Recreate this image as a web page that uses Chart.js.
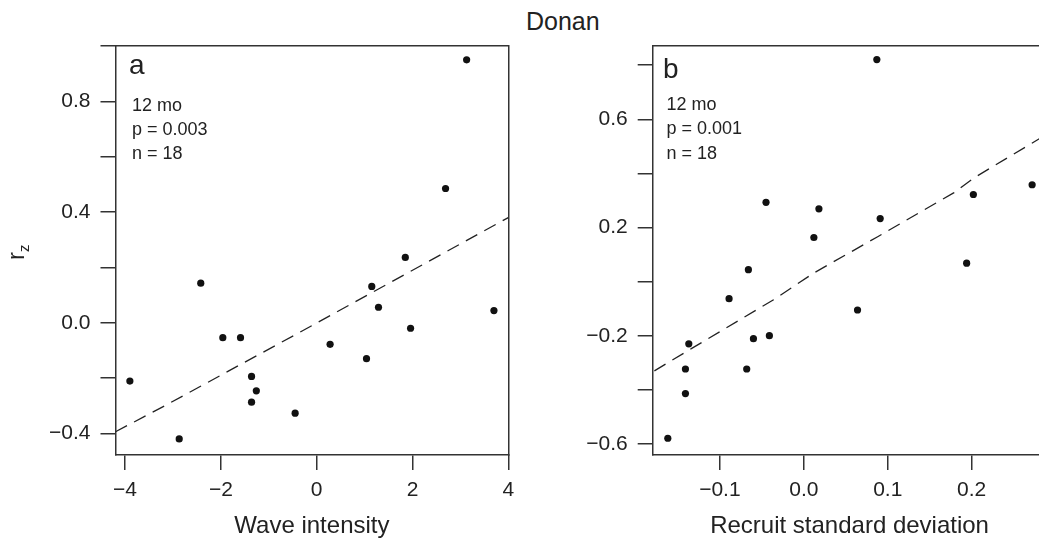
<!DOCTYPE html>
<html>
<head>
<meta charset="utf-8">
<title>Donan</title>
<script src="https://cdn.jsdelivr.net/npm/chart.js@4.4.1/dist/chart.umd.min.js"></script>
<style>
  html, body { margin: 0; padding: 0; background: #fff; }
  body { position: relative; width: 1039px; height: 541px; overflow: hidden; font-family: "Liberation Sans", Arial, sans-serif; }
  #panelA { position: absolute; left: 0; top: 0; }
  #panelB { position: absolute; left: 540px; top: 0; }
  #donan { position: absolute; left: 526px; top: 7px; font-size: 25px; line-height: 28px; color: #222; }
</style>
</head>
<body>
<div id="donan">Donan</div>
<canvas id="panelA" width="540" height="541"></canvas>
<canvas id="panelB" width="520" height="541"></canvas>
<script>
// panel a: r_z against wave intensity
const waveX = [-3.90, -2.87, -2.42, -1.96, -1.59, -1.36, -1.26, -1.36, -0.45, 0.28, 1.04, 1.15, 1.29, 1.85, 1.96, 2.69, 3.13, 3.70];
const waveR = [-0.211, -0.420, 0.143, -0.054, -0.054, -0.194, -0.246, -0.287, -0.327, -0.078, -0.130, 0.131, 0.056, 0.236, -0.020, 0.485, 0.950, 0.044];
const waveFitX = [-4.2, -3.17, -0.2, 4.0];
const waveFitR = [-0.394, -0.30, -0.02, 0.38];

// panel b: r_z against recruit standard deviation
const recruitSd = [-0.162, -0.141, -0.141, -0.137, -0.089, -0.068, -0.066, -0.060, -0.045, -0.041, 0.012, 0.018, 0.064, 0.087, 0.091, 0.194, 0.202, 0.272];
const recruitR = [-0.579, -0.323, -0.414, -0.230, -0.063, -0.323, 0.044, -0.211, 0.293, -0.200, 0.163, 0.269, -0.105, 0.821, 0.233, 0.068, 0.322, 0.358];
const recruitFitX = [-0.178, -0.133, -0.036, 0.012, 0.088, 0.179, 0.203, 0.281];
const recruitFitR = [-0.330, -0.246, -0.067, 0.032, 0.166, 0.329, 0.384, 0.529];

// ticks (empty label = unlabelled tick)
const waveXTicks = [-4, -2, 0, 2, 4];
const waveXLabels = ["\u22124", "\u22122", "0", "2", "4"];
const waveYTicks = [-0.4, -0.2, 0, 0.2, 0.4, 0.6, 0.8, 1.0];
const waveYLabels = ["\u22120.4", "", "0.0", "", "0.4", "", "0.8", ""];
const recruitXTicks = [-0.1, 0, 0.1, 0.2];
const recruitXLabels = ["\u22120.1", "0.0", "0.1", "0.2"];
const recruitYTicks = [-0.6, -0.4, -0.2, 0, 0.2, 0.4, 0.6, 0.8];
const recruitYLabels = ["\u22120.6", "", "\u22120.2", "", "0.2", "", "0.6", ""];

const notesA = ["12 mo", "p = 0.003", "n = 18"];
const notesB = ["12 mo", "p = 0.001", "n = 18"];

const ink = "#222";
const family = "'Liberation Sans', Arial, Helvetica, sans-serif";

// letters, stats text and the r_z label
const panelText = {
  id: "panelText",
  afterDraw(chart, args, o) {
    const { ctx, chartArea } = chart;
    ctx.save();
    ctx.fillStyle = ink;
    ctx.textBaseline = "alphabetic";
    ctx.textAlign = "left";
    ctx.font = "28px " + family;
    ctx.fillText(o.letter, chartArea.left + o.letterDx, o.letterY);
    ctx.font = "18px " + family;
    o.lines.forEach((t, i) => {
      ctx.fillText(t, chartArea.left + o.textDx, o.textY[i]);
    });
    if (o.yTitle) {
      ctx.translate(23.5, 260);
      ctx.rotate(-Math.PI / 2);
      ctx.font = "24px " + family;
      ctx.fillText("r", 0, 0);
      const w = ctx.measureText("r").width;
      ctx.font = "15px " + family;
      ctx.fillText("z", w, 5);
    }
    ctx.restore();
  },
};

const makePanel = (id, cfg) => {
  const line = { color: "#333", width: 1.5 };
  const tickFont = { family: family, size: 21 };
  const config = {
    type: "scatter",
    data: {
      datasets: [
        {
          data: cfg.xs.map((x, i) => ({ x: x, y: cfg.ys[i] })),
          pointRadius: 3.6,
          pointBackgroundColor: "#111",
          pointBorderWidth: 0,
          showLine: false,
        },
        {
          data: cfg.fitX.map((x, i) => ({ x: x, y: cfg.fitY[i] })),
          showLine: true,
          pointRadius: 0,
          borderColor: ink,
          borderWidth: 1.3,
          borderDash: [13, 8],
          tension: 0,
        },
      ],
    },
    options: {
      responsive: false,
      animation: false,
      events: [],
      layout: {
        autoPadding: false,
        padding: { left: 0, top: 46, right: cfg.padRight, bottom: 0 },
      },
      plugins: {
        legend: { display: false },
        tooltip: { enabled: false },
        panelText: cfg.text,
      },
      scales: {
        x: {
          type: "linear",
          position: "bottom",
          min: cfg.xMin,
          max: cfg.xMax,
          afterBuildTicks: (s) => { s.ticks = cfg.xTicks.map((v) => ({ value: v })); },
          afterFit: (s) => { s.height = 86; },
          ticks: {
            callback: (v, i) => cfg.xLabels[i],
            autoSkip: false,
            maxRotation: 0,
            padding: 8,
            color: ink,
            font: tickFont,
          },
          grid: { drawOnChartArea: false, drawTicks: true, tickLength: 15, color: line.color, lineWidth: line.width },
          border: { display: true, color: line.color, width: line.width },
          title: {
            display: true,
            text: cfg.xTitle,
            color: ink,
            font: { family: family, size: 24 },
            padding: { top: 0, bottom: 0 },
          },
        },
        y: {
          type: "linear",
          position: "left",
          min: cfg.yMin,
          max: cfg.yMax,
          afterBuildTicks: (s) => { s.ticks = cfg.yTicks.map((v) => ({ value: v })); },
          afterFit: (s) => { s.width = cfg.yWidth; },
          ticks: {
            callback: (v, i) => cfg.yLabels[i],
            autoSkip: false,
            padding: 10,
            color: ink,
            font: tickFont,
          },
          grid: { drawOnChartArea: false, drawTicks: true, tickLength: 15, color: line.color, lineWidth: line.width },
          border: { display: true, color: line.color, width: line.width },
        },
        x2: {
          type: "linear",
          position: "top",
          min: cfg.xMin,
          max: cfg.xMax,
          afterFit: (s) => { s.height = 0; },
          ticks: { display: false },
          grid: { display: false, drawTicks: false },
          border: { display: true, color: line.color, width: line.width },
        },
        y2: {
          type: "linear",
          position: "right",
          min: cfg.yMin,
          max: cfg.yMax,
          afterFit: (s) => { s.width = 0; },
          ticks: { display: false },
          grid: { display: false, drawTicks: false },
          border: { display: true, color: line.color, width: line.width },
        },
      },
    },
    plugins: [panelText],
  };
  const ctx = document.getElementById(id).getContext("2d");
  return new Chart(ctx, config);
};

makePanel("panelA", {
  xs: waveX, ys: waveR, fitX: waveFitX, fitY: waveFitR,
  xMin: -4.2, xMax: 4.0, yMin: -0.478, yMax: 1.0,
  xTicks: waveXTicks, xLabels: waveXLabels,
  yTicks: waveYTicks, yLabels: waveYLabels,
  xTitle: "Wave intensity",
  yWidth: 115.5, padRight: 31.7,
  text: { letter: "a", letterDx: 13.5, letterY: 73.5, lines: notesA, textDx: 16.5, textY: [111, 135, 159], yTitle: true },
});

makePanel("panelB", {
  xs: recruitSd, ys: recruitR, fitX: recruitFitX, fitY: recruitFitR,
  xMin: -0.180, xMax: 0.289, yMin: -0.641, yMax: 0.871,
  xTicks: recruitXTicks, xLabels: recruitXLabels,
  yTicks: recruitYTicks, yLabels: recruitYLabels,
  xTitle: "Recruit standard deviation",
  yWidth: 112.7, padRight: 13.6,
  text: { letter: "b", letterDx: 10.3, letterY: 78, lines: notesB, textDx: 13.8, textY: [109.5, 134, 158.5], yTitle: false },
});
</script>
</body>
</html>
